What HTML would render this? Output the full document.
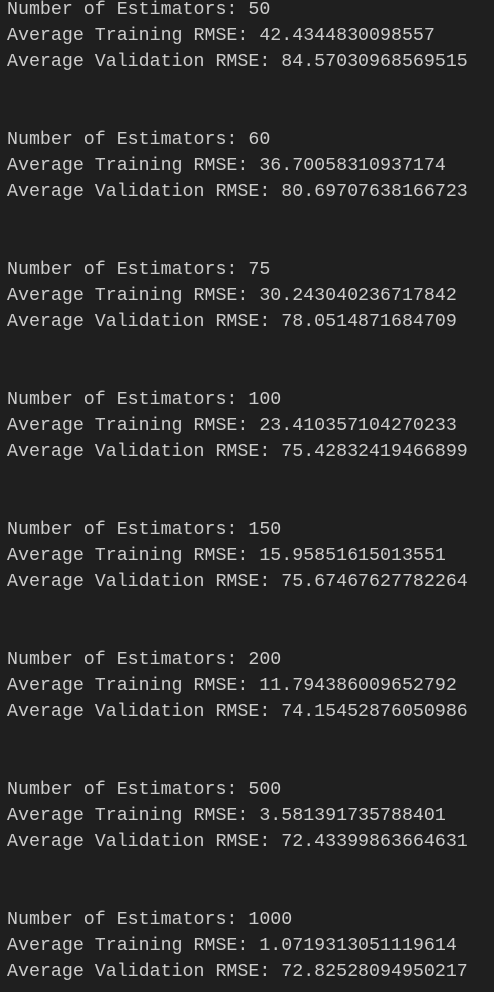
<!DOCTYPE html>
<html><head><meta charset="utf-8"><style>
html,body{margin:0;padding:0;background:#1f1f1f;width:494px;height:992px;overflow:hidden}
pre{margin:-3px 0 0 7px;font-family:"Liberation Mono",monospace;font-size:18.3px;line-height:26px;color:#cccccc;white-space:pre}
</style></head><body>
<pre>Number of Estimators: 50
Average Training RMSE: 42.4344830098557
Average Validation RMSE: 84.57030968569515


Number of Estimators: 60
Average Training RMSE: 36.70058310937174
Average Validation RMSE: 80.69707638166723


Number of Estimators: 75
Average Training RMSE: 30.243040236717842
Average Validation RMSE: 78.0514871684709


Number of Estimators: 100
Average Training RMSE: 23.410357104270233
Average Validation RMSE: 75.42832419466899


Number of Estimators: 150
Average Training RMSE: 15.95851615013551
Average Validation RMSE: 75.67467627782264


Number of Estimators: 200
Average Training RMSE: 11.794386009652792
Average Validation RMSE: 74.15452876050986


Number of Estimators: 500
Average Training RMSE: 3.581391735788401
Average Validation RMSE: 72.43399863664631


Number of Estimators: 1000
Average Training RMSE: 1.0719313051119614
Average Validation RMSE: 72.82528094950217</pre>
</body></html>
